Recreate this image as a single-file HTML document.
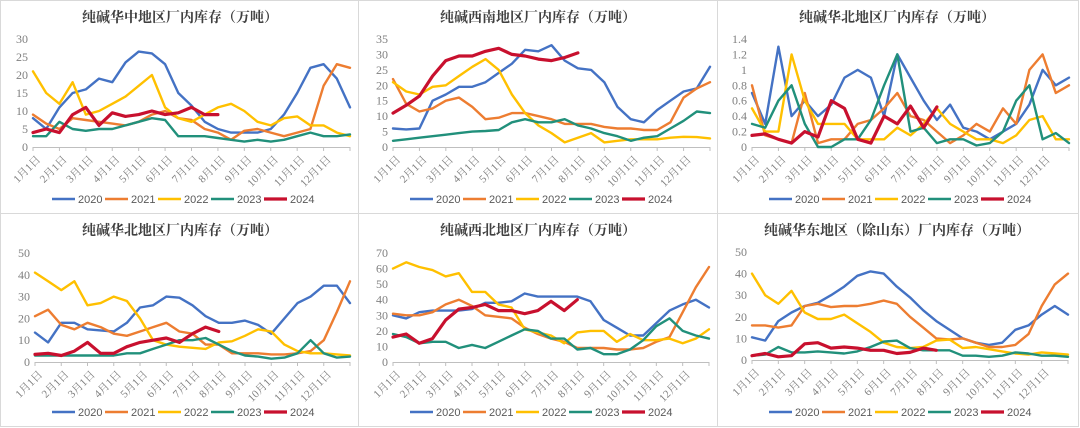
<!DOCTYPE html>
<html><head><meta charset="utf-8">
<style>
html,body{margin:0;padding:0;background:#fff;width:1080px;height:428px;overflow:hidden}
svg{display:block}
</style></head>
<body>
<svg id="chart" width="1080" height="428" xmlns="http://www.w3.org/2000/svg"></svg>
<script>
// ---- data (half-month steps: index 0 = Jan 1, 24 = Dec 31) ----
const monthLabels = ["1月1日","2月1日","3月1日","4月1日","5月1日","6月1日","7月1日","8月1日","9月1日","10月1日","11月1日","12月1日"];
const seriesYears = ["2020","2021","2022","2023","2024"];
const seriesColors = ["#4472C4","#ED7D31","#FFC000","#21907B","#C8102E"];

const central2020 = [8,5,11,15,16,19,18,23.5,26.5,26,23,15,11.5,7,5,4,4,4,5,9,15,22,23,19,11];
const central2021 = [9,6.5,5,8,7.5,7,6.5,6,7,9,10,8,7.5,5,4,2,4.5,5,4,3,4,5,17,23,22];
const central2022 = [21,15,12,18,9,10,12,14,17,20,11,8,7,9,11,12,10,7,6,8,8.5,6,6,4,3];
const central2023 = [3,3,7,5,4.5,5,5,6,7,8,7.5,3,3,3,2.5,2,1.5,2,1.5,2,3,4,3,3,3.5];
const central2024 = [4,5,4,9,11,6,9.5,8.5,9,10,9,9.5,11,9,9];

const southwest2020 = [6,5.7,6,15,17,19.5,19.5,21,24,27,31.5,31,33,28,25.5,25,21,13,9,8,12,15,18,19,26];
const southwest2021 = [22,14,11.5,12.5,15,16,13,9,9.5,11,11,10,9,7.5,7.5,7.5,6.5,6,6,5.5,5.5,8,16,19,21];
const southwest2022 = [21,18,17,19.5,20,23,26,28.5,25,17,11,7,4.5,1.5,3,4.5,1.5,2,2.5,2.5,2.5,3,3.3,3.2,2.8];
const southwest2023 = [2,2.5,3,3.5,4,4.5,5,5.2,5.5,8,9,8,8,9,7,6,4.5,3.5,2,3,3.5,6,8.5,11.5,11];
const southwest2024 = [11,13.5,16.5,23,28,29.5,29.5,31,32,30,29.5,28.5,28,29,30.5];

const northA2020 = [0.7,0.3,1.3,0.4,0.6,0.4,0.55,0.9,1.0,0.9,0.4,1.2,0.9,0.6,0.35,0.55,0.25,0.2,0.1,0.2,0.3,0.55,1.0,0.8,0.9];
const northA2021 = [0.8,0.15,0.1,0.05,0.7,0.05,0.1,0.1,0.3,0.35,0.5,0.7,0.4,0.35,0.2,0.05,0.15,0.3,0.2,0.5,0.3,1.0,1.2,0.7,0.8];
const northA2022 = [0.5,0.2,0.2,1.2,0.6,0.3,0.3,0.3,0.1,0.1,0.1,0.25,0.15,0.3,0.5,0.3,0.2,0.1,0.1,0.05,0.15,0.35,0.4,0.1,0.1];
const northA2023 = [0.3,0.25,0.6,0.8,0.3,0.0,0.0,0.1,0.1,0.35,0.8,1.2,0.2,0.25,0.05,0.1,0.1,0.02,0.05,0.2,0.6,0.8,0.1,0.18,0.05];
const northA2024 = [0.15,0.17,0.1,0.05,0.2,0.13,0.6,0.5,0.1,0.05,0.4,0.3,0.53,0.25,0.52];

const northB2020 = [13.5,9,18,18,15,14.5,14,18,25,26,30,29.5,26,21,18,18,19,17,13,20,27,30,35,35,27];
const northB2021 = [21,24,17,15,18,16,13,12,14,16,18,14,13,8,8,4,4,4,3.5,3.5,4,5,10,23,37];
const northB2022 = [41,37,33,37,26,27,30,28,20,10,8,7,6.5,6,9,9.5,12,15,14,8,5,4,4,3.5,3];
const northB2023 = [3,3,3,3,3,3,3,4,4,6,8,10,10,11,8,5,3,2.5,1.5,2,4,10,4,2,2.5];
const northB2024 = [3.5,4,3,5,9,4,4,7,9,10,11,9,13,16,14];

const northwest2020 = [30,28,32,33,33,33,34,38,38,39,44,42,42,42,42,39,27,22,17,17,25,33,37,40,35];
const northwest2021 = [31,30,30,32,37,40,36,30,29,28,22,18,15,13,9,9,9,8,8,9,13,16,32,48,61];
const northwest2022 = [60,64,61,59,55,57,45,45,37,35,21,19,17,12,19,20,20,13,18,14,14,15,12,15,21];
const northwest2023 = [18,16,12,13,13,9,11,9,13,17,21,20,15,15,8,9,5,5,8,14,23,28,20,17,15];
const northwest2024 = [16,18,12,15,27,34,35,37,33,33,31,33,39,33,40];

const east2020 = [10.5,9,18,22,25,26.5,30,34,39,41,40,34,29,23,18,14,10,8,7,8,14,16,21,25,21];
const east2021 = [16,16,15,16,25,26,24.5,25,25,26,27.5,26,20,15,10,9.5,10,8,6,6,7,12,25,35,40];
const east2022 = [40,30,26,32,22,19,19,21,17,13,8,6,5.5,6,9,9.5,5.5,6,5,4,3,2.5,3.5,3,2.5];
const east2023 = [2,2.5,6,3.5,3.5,4,3.5,3,4,6,8.5,9,5.5,4.5,4.5,4.5,2,2,1.5,2,3.5,3,2,2,1.5];
const east2024 = [2,3,1.5,2,7.5,8,5.5,6,5.5,4.5,4.5,3,3.5,5.5,4.5];

const centralTicks = ["0","5","10","15","20","25","30"];
const southwestTicks = ["0","5","10","15","20","25","30","35"];
const northATicks = ["0","0.2","0.4","0.6","0.8","1","1.2","1.4"];
const northBTicks = ["0","10","20","30","40","50"];
const northwestTicks = ["0","10","20","30","40","50","60","70"];
const eastTicks = ["0","10","20","30","40","50"];

const panels = [
 {name:"central",title:"纯碱华中地区厂内库存（万吨）",bx:0,by:0,L:33,R:350,T:39,B:147,max:30,ticks:centralTicks,
  data:[central2020,central2021,central2022,central2023,central2024]},
 {name:"southwest",title:"纯碱西南地区厂内库存（万吨）",bx:358,by:0,L:393,R:710,T:39,B:147,max:35,ticks:southwestTicks,
  data:[southwest2020,southwest2021,southwest2022,southwest2023,southwest2024]},
 {name:"north-a",title:"纯碱华北地区厂内库存（万吨）",bx:717,by:0,L:752,R:1069,T:39,B:147,max:1.4,ticks:northATicks,
  data:[northA2020,northA2021,northA2022,northA2023,northA2024]},
 {name:"north-b",title:"纯碱华北地区厂内库存（万吨）",bx:0,by:213,L:35,R:350,T:253,B:362,max:50,ticks:northBTicks,
  data:[northB2020,northB2021,northB2022,northB2023,northB2024]},
 {name:"northwest",title:"纯碱西北地区厂内库存（万吨）",bx:358,by:213,L:393,R:709,T:253,B:362,max:70,ticks:northwestTicks,
  data:[northwest2020,northwest2021,northwest2022,northwest2023,northwest2024]},
 {name:"east",title:"纯碱华东地区（除山东）厂内库存（万吨）",bx:717,by:213,L:752,R:1068,T:252,B:360,max:50,ticks:eastTicks,
  data:[east2020,east2021,east2022,east2023,east2024]}
];

const NS="http://www.w3.org/2000/svg";
const svg=document.getElementById('chart');
function mk(tag,attrs,parent){const e=document.createElementNS(NS,tag);for(const k in attrs)e.setAttribute(k,attrs[k]);(parent||svg).appendChild(e);return e;}

panels.forEach(p=>{
  const g=mk('g',{});
  
  
  const frame=mk('rect',{x:p.bx+0.5,y:p.by+0.5,width:361,height:213,fill:'#fff',stroke:'#d9d9d9','stroke-width':1},g);
  
  
  const cx=p.bx+180;
  const t=mk('text',{x:cx,y:p.by+22,'text-anchor':'middle','font-size':14,fill:'#404040','font-family':'"Liberation Serif","Noto Serif CJK SC",serif','font-weight':'bold'},g);
  t.textContent=p.title;
  
  
  const xs=i=>p.L+(p.R-p.L)*i/24;
  const ys=v=>p.B-(p.B-p.T)*v/p.max;
  // y ticks
  p.ticks.forEach(lbl=>{
    const tt=mk('text',{x:p.L-5,y:ys(parseFloat(lbl))+4,'text-anchor':'end','font-size':12,fill:'#7f7f7f','font-family':'"Liberation Serif",serif'},g);
    tt.textContent=lbl;
    
    
  });
  // x axis
  const ax=mk('line',{x1:p.L,y1:p.B+0.5,x2:p.R,y2:p.B+0.5,stroke:'#bfbfbf','stroke-width':1},g);
  
  
  for(let m=0;m<=12;m++){
    const x=p.L+(p.R-p.L)*m/12;
    mk('line',{x1:x,y1:p.B,x2:x,y2:p.B+4,stroke:'#bfbfbf','stroke-width':1},g);
  }
  monthLabels.forEach((lbl,m)=>{
    const x=p.L+(p.R-p.L)*m/12+3, y=p.B+8;
    const tt=mk('text',{x:x,y:y,'text-anchor':'end','font-size':11,fill:'#7f7f7f','font-family':'"Liberation Serif","Noto Serif CJK SC",serif',transform:`rotate(-45 ${x} ${y})`,'dominant-baseline':'hanging'},g);
    tt.textContent=lbl;
    
    
  });
  // series
  p.data.forEach((arr,si)=>{
    const d=arr.map((v,i)=>(i?'L':'M')+xs(i).toFixed(1)+','+ys(v).toFixed(1)).join(' ');
    const path=mk('path',{d:d,fill:'none',stroke:seriesColors[si],'stroke-width':si===4?3.2:2.4,'stroke-linejoin':'round','stroke-linecap':'round'},g);
    
    
  });
  // legend
  const ly=p.by+199;
  seriesYears.forEach((yr,si)=>{
    const lx=p.bx+52+si*53;
    const lg=mk('g',{},g);
    
    
    mk('line',{x1:lx,y1:ly,x2:lx+23,y2:ly,stroke:seriesColors[si],'stroke-width':si===4?3.2:2.6},lg);
    const tt=mk('text',{x:lx+26,y:ly+4,'font-size':11,fill:'#595959','font-family':'"Liberation Sans",sans-serif'},lg);
    tt.textContent=yr;
  });
});
</script>
</body></html>
